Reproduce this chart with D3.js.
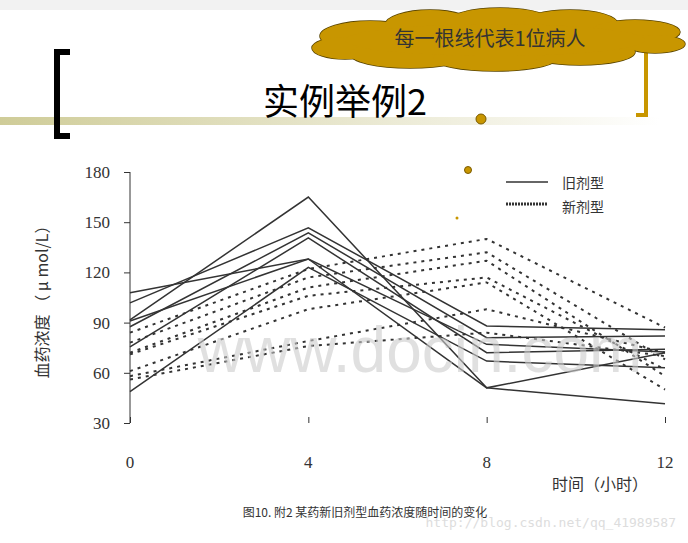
<!DOCTYPE html>
<html><head><meta charset="utf-8">
<script src="https://cdn.jsdelivr.net/npm/d3@7"></script>
<style>body{margin:0;background:#fff}</style>
</head><body>
<svg id="c" width="688" height="543"></svg>
<script>
// data
var times = [0, 4, 8, 12];
var yTicks = [30, 60, 90, 120, 150, 180];
var oldDrug = [
  [91.6, 165, 51, 41.5],
  [101.8, 146.6, 88, 85.7],
  [87.5, 143.6, 81, 82],
  [75.5, 140.6, 72, 74],
  [107.8, 128, 77, 72.5],
  [48.7, 123, 67, 63],
  [91, 128, 51, 72]
];
var newDrug = [
  [84, 122, 140, 87],
  [78, 117, 132, 68],
  [72, 111, 127, 58],
  [71, 106, 117, 62],
  [61, 98, 114, 50],
  [58, 79, 98, 72],
  [56, 76, 84, 70]
];

var svg = d3.select("#c");
var gold = "#c89600";

// slide decoration
svg.append("rect").attr("width", 688).attr("height", 10).style("fill", "#f2f2f2");
var grad = svg.append("defs").append("linearGradient").attr("id", "g");
grad.append("stop").attr("offset", "0%").attr("stop-color", "#cfcc98");
grad.append("stop").attr("offset", "100%").attr("stop-color", "#fff");
svg.append("rect").attr("x", 0).attr("y", 117).attr("width", 660).attr("height", 8).style("fill", "url(#g)");
svg.append("path").attr("d", "M70,52 H57 V136 H70").style("fill", "none").style("stroke", "#000").style("stroke-width", 6);
svg.append("path").attr("d", "M636,115 H646 V52").style("fill", "none").style("stroke", gold).style("stroke-width", 4);
svg.append("text").attr("x", 345).attr("y", 115).attr("text-anchor", "middle")
  .style("font-family", "Noto Sans CJK SC").style("font-size", "36px").text("实例举例2");
svg.append("circle").attr("cx", 481).attr("cy", 119).attr("r", 5).style("fill", gold).style("stroke", "#7a5a00");

// cloud
var bumps = [[370,36,50,15],[430,25,45,15],[500,22,52,14],[570,24,48,14],[635,32,45,12],[345,48,33,11],[655,44,30,9],[410,54,60,14],[495,58,62,13],[580,52,55,13],[495,40,150,16]];
svg.append("g").selectAll("ellipse").data(bumps).join("ellipse")
  .attr("cx", d => d[0]).attr("cy", d => d[1]).attr("rx", d => d[2]).attr("ry", d => d[3])
  .style("fill", gold).style("stroke", "#5a4500").style("stroke-width", 1.5);
svg.append("g").selectAll("ellipse").data(bumps).join("ellipse")
  .attr("cx", d => d[0]).attr("cy", d => d[1]).attr("rx", d => d[2]).attr("ry", d => d[3])
  .style("fill", gold);
svg.append("text").attr("x", 490).attr("y", 46).attr("text-anchor", "middle")
  .style("font-family", "Noto Sans CJK SC").style("font-size", "20px").style("fill", "#333").text("每一根线代表1位病人");

// chart
var x = d3.scaleLinear().domain([0, 12]).range([130, 665]);
var y = d3.scaleLinear().domain([30, 180]).range([423, 172]);
var serif = "Liberation Serif";

svg.append("text").attr("x", 0).attr("y", 0).attr("transform", "translate(48,298) rotate(-90)")
  .attr("text-anchor", "middle").style("font-family", "Noto Sans CJK SC").style("font-size", "16px").style("fill", "#333")
  .text("血药浓度  （ μ mol/L）");

var yAxis = svg.append("g").attr("transform", "translate(130,0)")
  .call(d3.axisLeft(y).tickValues(yTicks).tickSize(6).tickPadding(14));
yAxis.selectAll("text").style("font-family", serif).style("font-size", "17px").style("fill", "#333");
yAxis.selectAll("line,path").style("stroke", "#333");
yAxis.select(".domain").attr("d", "M0,172V423");

var xAxis = svg.append("g").attr("transform", "translate(0,423)")
  .call(d3.axisTop(x).tickValues(times).tickSize(6).tickFormat(""));
xAxis.select(".domain").remove();
xAxis.selectAll("line").style("stroke", "#333");
svg.append("g").selectAll("text").data(times).join("text")
  .attr("x", d => x(d)).attr("y", 468).attr("text-anchor", "middle")
  .style("font-family", serif).style("font-size", "17px").style("fill", "#333").text(d => d);
svg.append("text").attr("x", 600).attr("y", 490).attr("text-anchor", "middle")
  .style("font-family", "Noto Sans CJK SC").style("font-size", "16px").style("fill", "#333").text("时间（小时）");

var line = d3.line().x((d, i) => x(times[i])).y(d => y(d));
svg.append("g").selectAll("path").data(newDrug).join("path").attr("d", line)
  .style("fill", "none").style("stroke", "#333").style("stroke-width", 2).style("stroke-dasharray", "3,5");
svg.append("g").selectAll("path").data(oldDrug).join("path").attr("d", line)
  .style("fill", "none").style("stroke", "#333").style("stroke-width", 1.5);

// legend
svg.append("line").attr("x1", 506).attr("x2", 548).attr("y1", 182).attr("y2", 182).style("stroke", "#333").style("stroke-width", 1.5);
svg.append("line").attr("x1", 506).attr("x2", 548).attr("y1", 204).attr("y2", 204).style("stroke", "#333").style("stroke-width", 3).style("stroke-dasharray", "2,1");
svg.append("text").attr("x", 562).attr("y", 188).style("font-family", "Noto Sans CJK SC").style("font-size", "14px").style("fill", "#333").text("旧剂型");
svg.append("text").attr("x", 562).attr("y", 212).style("font-family", "Noto Sans CJK SC").style("font-size", "14px").style("fill", "#333").text("新剂型");
svg.append("circle").attr("cx", 468).attr("cy", 170).attr("r", 3.5).style("fill", gold).style("stroke", "#7a5a00");
svg.append("circle").attr("cx", 457).attr("cy", 218).attr("r", 1.5).style("fill", gold);

// watermark & caption
svg.append("text").attr("x", 420).attr("y", 372).attr("text-anchor", "middle")
  .style("font-family", "Liberation Sans").style("font-size", "64px").style("fill", "#ccc").style("opacity", 0.6).text("www.docin.com");
svg.append("text").attr("x", 365).attr("y", 517).attr("text-anchor", "middle")
  .style("font-family", "Noto Sans CJK SC").style("font-size", "12px").style("fill", "#333").text("图10. 附2    某药新旧剂型血药浓度随时间的变化");
svg.append("text").attr("x", 676).attr("y", 527).attr("text-anchor", "end")
  .style("font-family", "DejaVu Sans Mono").style("font-size", "13px").style("fill", "#ddd").text("http://blog.csdn.net/qq_41989587");
</script>
</body></html>
